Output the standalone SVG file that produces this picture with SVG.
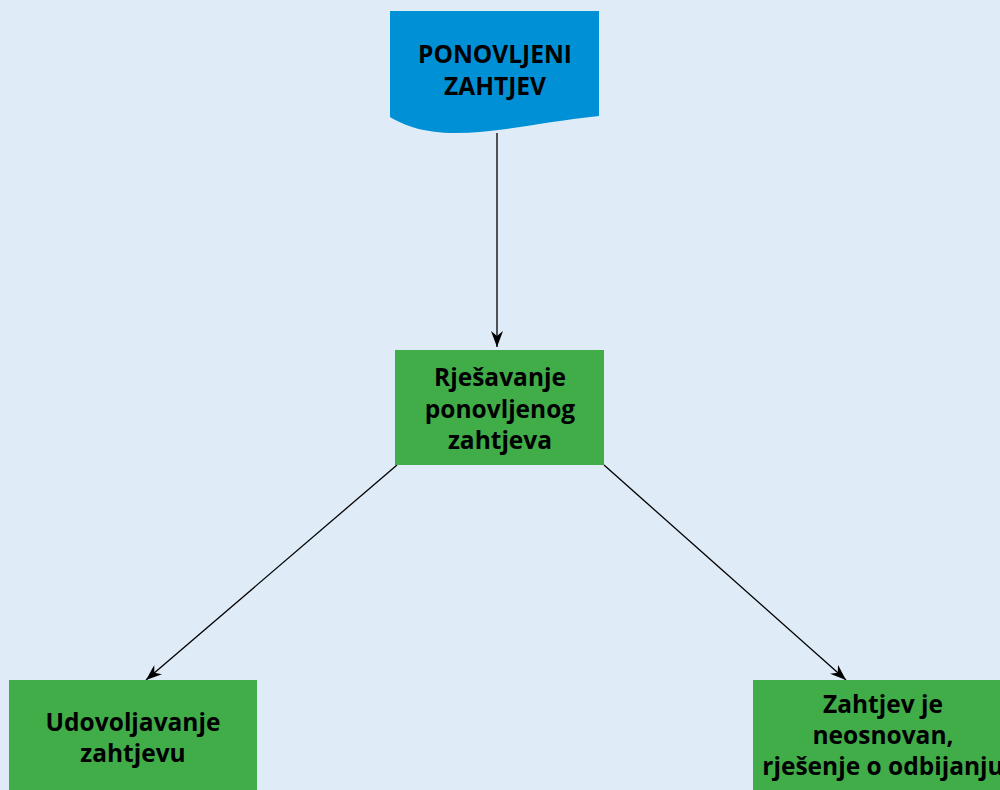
<svg xmlns="http://www.w3.org/2000/svg" width="1000" height="790" viewBox="0 0 1000 790">
<style>
.bg{fill:#dfebf7}
.box{fill:#41ad49}
.doc{fill:#0090d6}
.t{font-family:"Open Sans","Liberation Sans",Arial,sans-serif;font-weight:bold;font-size:24.5px;fill:#000;text-anchor:middle}
.c{stroke:#000;stroke-width:1.3;fill:none}
</style>
<defs>
<marker id="arr" viewBox="0 0 16 12" refX="16" refY="6" markerWidth="16" markerHeight="12" markerUnits="userSpaceOnUse" orient="auto">
<path d="M0,0 L16,6 L0,12 L5,6 Z" fill="#000"/>
</marker>
</defs>
<rect class="bg" x="0" y="0" width="1000" height="790"/>
<g id="connectors">
<line class="c" x1="497" y1="133" x2="497" y2="347" marker-end="url(#arr)"/>
<line class="c" x1="397" y1="465" x2="146" y2="680" marker-end="url(#arr)"/>
<line class="c" x1="604" y1="465" x2="846" y2="680" marker-end="url(#arr)"/>
</g>
<g id="node-ponovljeni">
<path class="doc" d="M390,11 H599 V116 C540,122 500,133 455,133 C425,133 405,126 390,117 Z"/>
<text class="t" x="495" y="63">PONOVLJENI</text>
<text class="t" x="495" y="95">ZAHTJEV</text>
</g>
<g id="node-rjesavanje">
<rect class="box" x="395" y="350" width="209" height="115"/>
<text class="t" x="500" y="386">Rješavanje</text>
<text class="t" x="500" y="418">ponovljenog</text>
<text class="t" x="500" y="449">zahtjeva</text>
</g>
<g id="node-udovoljavanje">
<rect class="box" x="9" y="680" width="248" height="120"/>
<text class="t" x="133" y="731">Udovoljavanje</text>
<text class="t" x="133" y="762">zahtjevu</text>
</g>
<g id="node-neosnovan">
<rect class="box" x="753" y="680" width="260" height="120"/>
<text class="t" x="883" y="713">Zahtjev je</text>
<text class="t" x="883" y="744">neosnovan,</text>
<text class="t" x="883" y="775">rješenje o odbijanju</text>
</g>
</svg>
